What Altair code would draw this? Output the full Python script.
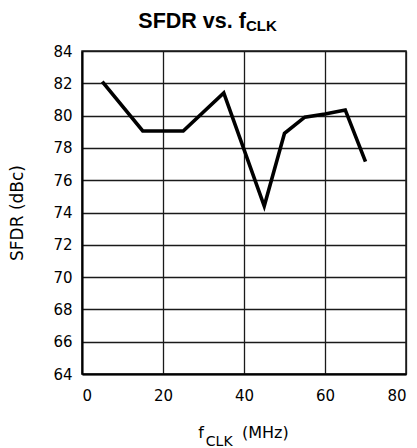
import altair as alt
import pandas as pd

# data
fclk = [5, 15, 25, 35, 45, 50, 55, 60, 65, 70]
sfdr = [82.1, 79.05, 79.05, 81.4, 74.4, 78.9, 79.9, 80.1, 80.35, 77.15]
x_ticks = [0, 20, 40, 60, 80]
y_ticks = [64, 66, 68, 70, 72, 74, 76, 78, 80, 82, 84]

title_main = "SFDR vs. f"
title_sub = "CLK"
xtitle_main = "f"
xtitle_sub = "CLK"
xtitle_unit = "(MHz)"
ytitle = "SFDR (dBc)"

df = pd.DataFrame({"fclk": fclk, "sfdr": sfdr})

W, H = 324, 323
GRID = "#1a1a1a"

line = alt.Chart(df).mark_line(color="black", strokeWidth=3.6).encode(
    x=alt.X(
        "fclk:Q",
        scale=alt.Scale(domain=[0, 80], nice=False),
        axis=alt.Axis(
            values=x_ticks, title=None, grid=True, ticks=False, tickSize=0,
            labelFont="DejaVu Sans", labelFontSize=15, labelColor="black",
            labelPadding=14, domainColor="black", domainWidth=2,
            gridColor=GRID, gridWidth=1.3, gridOpacity=1,
        ),
    ),
    y=alt.Y(
        "sfdr:Q",
        scale=alt.Scale(domain=[64, 84], nice=False, zero=False),
        axis=alt.Axis(
            values=y_ticks, title=ytitle, grid=True, ticks=False, tickSize=0,
            labelFont="DejaVu Sans", labelFontSize=15, labelColor="black",
            labelPadding=10, domainColor="black", domainWidth=2,
            gridColor=GRID, gridWidth=1.3, gridOpacity=1,
            titleFont="DejaVu Sans", titleFontSize=17, titleFontWeight="normal",
            titleColor="black", titlePadding=26,
        ),
    ),
)


def label(text, font, size, weight, x, y):
    return alt.Chart(pd.DataFrame({"t": [text]})).mark_text(
        font=font, fontSize=size, fontWeight=weight, color="black",
        align="left", baseline="alphabetic",
    ).encode(text="t:N", x=alt.value(x), y=alt.value(y))


t1 = label(title_main, "Liberation Sans", 21.5, "bold", 56.3, -23.3)
t2 = label(title_sub, "Liberation Sans", 15, "bold", 164, -20)
x1 = label(xtitle_main, "DejaVu Sans", 16, "normal", 116.3, 387)
x2 = label(xtitle_sub, "DejaVu Sans", 14, "normal", 123.8, 395)
x3 = label(xtitle_unit, "DejaVu Sans", 16, "normal", 160, 387)

chart = alt.layer(line, t1, t2, x1, x2, x3).properties(
    width=W, height=H,
    autosize=alt.AutoSizeParams(type="none"),
    padding={"left": 74, "top": 43, "right": 3, "bottom": 74},
).configure_view(stroke=GRID, strokeWidth=1.5)

chart.save("out.html", embed_options={"renderer": "svg", "actions": False})
